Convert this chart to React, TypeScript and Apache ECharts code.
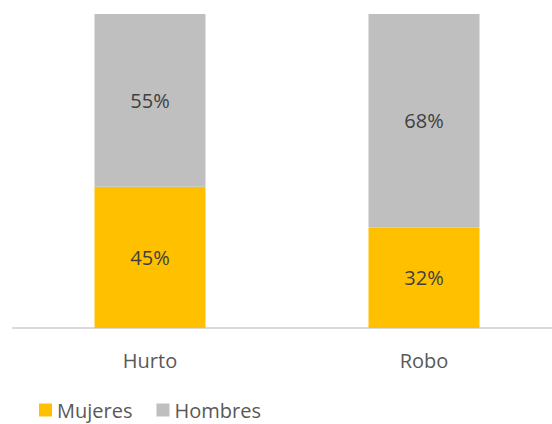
import React, { useEffect, useRef } from "react";
import * as echarts from "echarts";

const categories = ["Hurto", "Robo"];
const mujeres = [45, 32];
const hombres = [55, 68];

const FONT = "'Open Sans', 'Noto Sans', sans-serif";

export default function App() {
  const ref = useRef<HTMLDivElement>(null);
  useEffect(() => {
    const chart = echarts.init(ref.current!, null, { renderer: "svg" });
    const label = {
      show: true,
      position: "inside",
      color: "#404040",
      fontSize: 20,
      fontFamily: FONT,
      formatter: (p: any) => `${p.value}%`,
    };
    chart.setOption({
      animation: false,
      backgroundColor: "#ffffff",
      grid: { left: 13, right: 0, top: 14, height: 314 },
      legend: {
        left: 34,
        top: 395,
        itemWidth: 13,
        itemHeight: 13,
        itemGap: 24,
        icon: "rect",
        textStyle: { color: "#595959", fontSize: 20, lineHeight: 18, fontFamily: FONT },
        data: ["Mujeres", "Hombres"],
      },
      xAxis: {
        type: "category",
        data: categories,
        axisTick: { show: false },
        axisLine: { show: true, lineStyle: { color: "#d9d9d9", width: 2 } },
        axisLabel: { color: "#595959", fontSize: 20, fontFamily: FONT, margin: 22 },
      },
      yAxis: { type: "value", min: 0, max: 100, show: false, splitLine: { show: false } },
      series: [
        {
          name: "Mujeres",
          type: "bar",
          stack: "total",
          barWidth: 111,
          data: mujeres,
          itemStyle: { color: "#FFC000" },
          label,
        },
        {
          name: "Hombres",
          type: "bar",
          stack: "total",
          barWidth: 111,
          data: hombres,
          itemStyle: { color: "#BFBFBF" },
          label,
        },
      ],
    });
    return () => chart.dispose();
  }, []);
  return (
    <div
      style={{ position: "fixed", left: 0, top: 0, width: 552, height: 424, overflow: "hidden" }}
    >
      <div ref={ref} style={{ width: 561, height: 424 }} />
    </div>
  );
}
